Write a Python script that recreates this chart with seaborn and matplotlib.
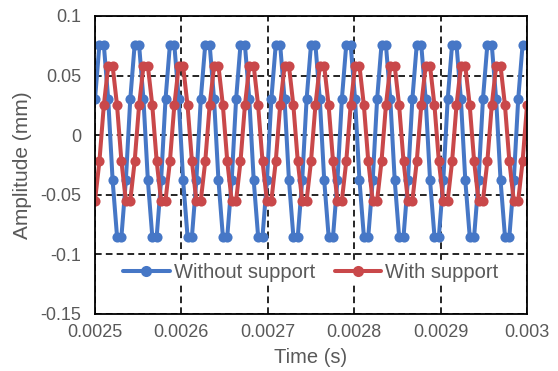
import matplotlib
matplotlib.use("Agg")
import matplotlib.pyplot as plt
from matplotlib.lines import Line2D
import pandas as pd
import seaborn as sns

# ---------------- data ----------------
time_s = [
    0.0025000, 0.0025051, 0.0025102, 0.0025153, 0.0025204, 0.0025255, 0.0025306, 0.0025357,
    0.0025408, 0.0025459, 0.0025510, 0.0025561, 0.0025612, 0.0025663, 0.0025714, 0.0025765,
    0.0025816, 0.0025867, 0.0025918, 0.0025969, 0.0026020, 0.0026071, 0.0026122, 0.0026173,
    0.0026224, 0.0026276, 0.0026327, 0.0026378, 0.0026429, 0.0026480, 0.0026531, 0.0026582,
    0.0026633, 0.0026684, 0.0026735, 0.0026786, 0.0026837, 0.0026888, 0.0026939, 0.0026990,
    0.0027041, 0.0027092, 0.0027143, 0.0027194, 0.0027245, 0.0027296, 0.0027347, 0.0027398,
    0.0027449, 0.0027500, 0.0027551, 0.0027602, 0.0027653, 0.0027704, 0.0027755, 0.0027806,
    0.0027857, 0.0027908, 0.0027959, 0.0028010, 0.0028061, 0.0028112, 0.0028163, 0.0028214,
    0.0028265, 0.0028316, 0.0028367, 0.0028418, 0.0028469, 0.0028520, 0.0028571, 0.0028622,
    0.0028673, 0.0028724, 0.0028776, 0.0028827, 0.0028878, 0.0028929, 0.0028980, 0.0029031,
    0.0029082, 0.0029133, 0.0029184, 0.0029235, 0.0029286, 0.0029337, 0.0029388, 0.0029439,
    0.0029490, 0.0029541, 0.0029592, 0.0029643, 0.0029694, 0.0029745, 0.0029796, 0.0029847,
    0.0029898, 0.0029949, 0.0030000,
]

without_support = [
    0.030,
    0.076, 0.076, 0.030, -0.038, -0.085, -0.085, -0.038, 0.030,
    0.076, 0.076, 0.030, -0.038, -0.085, -0.085, -0.038, 0.030,
    0.076, 0.076, 0.030, -0.038, -0.085, -0.085, -0.038, 0.030,
    0.076, 0.076, 0.030, -0.038, -0.085, -0.085, -0.038, 0.030,
    0.076, 0.076, 0.030, -0.038, -0.085, -0.085, -0.038, 0.030,
    0.076, 0.076, 0.030, -0.038, -0.085, -0.085, -0.038, 0.030,
    0.076, 0.076, 0.030, -0.038, -0.085, -0.085, -0.038, 0.030,
    0.076, 0.076, 0.030, -0.038, -0.085, -0.085, -0.038, 0.030,
    0.076, 0.076, 0.030, -0.038, -0.085, -0.085, -0.038, 0.030,
    0.076, 0.076, 0.030, -0.038, -0.085, -0.085, -0.038, 0.030,
    0.076, 0.076, 0.030, -0.038, -0.085, -0.085, -0.038, 0.030,
    0.076, 0.076, 0.030, -0.038, -0.085, -0.085, -0.038, 0.030,
    0.076, 0.076,
]

with_support = [
    -0.055,
    -0.022, 0.025, 0.058, 0.058, 0.025, -0.022, -0.055, -0.055,
    -0.022, 0.025, 0.058, 0.058, 0.025, -0.022, -0.055, -0.055,
    -0.022, 0.025, 0.058, 0.058, 0.025, -0.022, -0.055, -0.055,
    -0.022, 0.025, 0.058, 0.058, 0.025, -0.022, -0.055, -0.055,
    -0.022, 0.025, 0.058, 0.058, 0.025, -0.022, -0.055, -0.055,
    -0.022, 0.025, 0.058, 0.058, 0.025, -0.022, -0.055, -0.055,
    -0.022, 0.025, 0.058, 0.058, 0.025, -0.022, -0.055, -0.055,
    -0.022, 0.025, 0.058, 0.058, 0.025, -0.022, -0.055, -0.055,
    -0.022, 0.025, 0.058, 0.058, 0.025, -0.022, -0.055, -0.055,
    -0.022, 0.025, 0.058, 0.058, 0.025, -0.022, -0.055, -0.055,
    -0.022, 0.025, 0.058, 0.058, 0.025, -0.022, -0.055, -0.055,
    -0.022, 0.025, 0.058, 0.058, 0.025, -0.022, -0.055, -0.055,
    -0.022, 0.025,
]

series_names = ["Without support", "With support"]
x_ticks = [0.0025, 0.0026, 0.0027, 0.0028, 0.0029, 0.0030]
x_tick_labels = ["0.0025", "0.0026", "0.0027", "0.0028", "0.0029", "0.003"]
y_ticks = [-0.15, -0.10, -0.05, 0.0, 0.05, 0.10]
y_tick_labels = ["-0.15", "-0.1", "-0.05", "0", "0.05", "0.1"]
x_label = "Time (s)"
y_label = "Amplitude (mm)"

# ---------------- styling ----------------
BLUE = "#4677C6"
RED = "#C9484A"
TEXT = "#595959"

sns.set_style("white")
plt.rcParams["font.family"] = ["Liberation Sans", "DejaVu Sans"]

df = pd.DataFrame({
    "t": time_s + time_s,
    "amp": without_support + with_support,
    "series": [series_names[0]] * len(time_s) + [series_names[1]] * len(time_s),
})

fig = plt.figure(figsize=(5.58, 3.71), dpi=100)
ax = fig.add_axes([95 / 558, 1 - 314 / 371, 432 / 558, 298 / 371])

sns.lineplot(
    data=df, x="t", y="amp", hue="series",
    hue_order=series_names, palette=[BLUE, RED],
    estimator=None, sort=False, legend=False,
    marker="o", markersize=7.3, markeredgewidth=0,
    linewidth=2.9, ax=ax, zorder=3,
)

ax.set_xlim(x_ticks[0], x_ticks[-1])
ax.set_ylim(y_ticks[0], y_ticks[-1])
ax.set_xticks(x_ticks)
ax.set_xticklabels(x_tick_labels)
ax.set_yticks(y_ticks)
ax.set_yticklabels(y_tick_labels)

ax.grid(True, color="black", linestyle=(0, (4, 2.5)), linewidth=1.2, zorder=1)
ax.set_axisbelow(True)
for sp in ax.spines.values():
    sp.set_visible(True)
    sp.set_color("black")
    sp.set_linewidth(1.3)
    sp.set_zorder(5)

ax.tick_params(axis="both", length=0, labelsize=13, labelcolor=TEXT)
ax.tick_params(axis="y", pad=10)
ax.tick_params(axis="x", pad=7)
ax.set_xlabel(x_label, fontsize=14.5, color=TEXT, labelpad=5)
ax.set_ylabel(y_label, fontsize=15, color=TEXT, labelpad=6)

handles = [
    Line2D([], [], color=BLUE, marker="o", markersize=8, markeredgewidth=0, linewidth=2.9),
    Line2D([], [], color=RED, marker="o", markersize=8, markeredgewidth=0, linewidth=2.9),
]
leg = ax.legend(
    handles, series_names, loc="center", bbox_to_anchor=(0.5, 0.138), ncol=2,
    frameon=True, facecolor="white", edgecolor="none", framealpha=1,
    fontsize=14.5, handlelength=2.3, handletextpad=0.2, columnspacing=1.0,
    borderpad=0.15, borderaxespad=0,
)
for txt in leg.get_texts():
    txt.set_color(TEXT)
leg.set_zorder(6)

fig.savefig("out.png", dpi=100)
